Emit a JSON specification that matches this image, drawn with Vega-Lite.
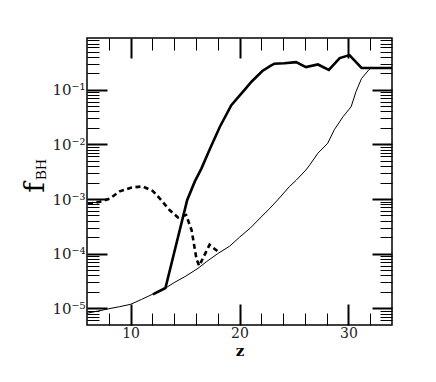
{
  "$schema": "https://vega.github.io/schema/vega-lite/v6.json",
  "width": 305,
  "height": 287,
  "autosize": {"type": "none"},
  "padding": {"left": 87, "top": 38, "right": 44, "bottom": 57},
  "background": "white",
  "config": {
    "view": {"stroke": "black", "strokeWidth": 1.5},
    "axis": {"grid": false, "domain": false, "tickColor": "black"}
  },
  "data": {
    "values": [
      {"z": 6, "f": 8.1e-6, "s": "thin"},
      {"z": 7, "f": 8.9e-6, "s": "thin"},
      {"z": 8, "f": 9.8e-6, "s": "thin"},
      {"z": 9, "f": 1.07e-5, "s": "thin"},
      {"z": 10, "f": 1.18e-5, "s": "thin"},
      {"z": 11, "f": 1.45e-5, "s": "thin"},
      {"z": 12, "f": 1.8e-5, "s": "thin"},
      {"z": 13.3, "f": 2.4e-5, "s": "thin"},
      {"z": 14, "f": 2.95e-5, "s": "thin"},
      {"z": 15, "f": 3.8e-5, "s": "thin"},
      {"z": 16.2, "f": 5.4e-5, "s": "thin"},
      {"z": 17, "f": 7.2e-5, "s": "thin"},
      {"z": 18, "f": 1.0e-4, "s": "thin"},
      {"z": 19.1, "f": 1.37e-4, "s": "thin"},
      {"z": 20, "f": 2.0e-4, "s": "thin"},
      {"z": 21, "f": 2.95e-4, "s": "thin"},
      {"z": 22, "f": 4.7e-4, "s": "thin"},
      {"z": 22.8, "f": 6.8e-4, "s": "thin"},
      {"z": 23.5, "f": 9.6e-4, "s": "thin"},
      {"z": 24.6, "f": 1.7e-3, "s": "thin"},
      {"z": 25.2, "f": 2.2e-3, "s": "thin"},
      {"z": 26.1, "f": 3.4e-3, "s": "thin"},
      {"z": 26.45, "f": 4.2e-3, "s": "thin"},
      {"z": 27.2, "f": 6.9e-3, "s": "thin"},
      {"z": 28.1, "f": 1.05e-2, "s": "thin"},
      {"z": 28.7, "f": 1.85e-2, "s": "thin"},
      {"z": 29.5, "f": 3.2e-2, "s": "thin"},
      {"z": 30.25, "f": 4.9e-2, "s": "thin"},
      {"z": 30.7, "f": 9.3e-2, "s": "thin"},
      {"z": 31.2, "f": 0.16, "s": "thin"},
      {"z": 31.9, "f": 0.235, "s": "thin"},
      {"z": 32.1, "f": 0.25, "s": "thin"},
      {"z": 34, "f": 0.25, "s": "thin"},

      {"z": 12.05, "f": 1.8e-5, "s": "thick"},
      {"z": 13.2, "f": 2.35e-5, "s": "thick"},
      {"z": 15.2, "f": 9.6e-4, "s": "thick"},
      {"z": 15.9, "f": 2.1e-3, "s": "thick"},
      {"z": 16.5, "f": 3.6e-3, "s": "thick"},
      {"z": 17.3, "f": 8.4e-3, "s": "thick"},
      {"z": 18.2, "f": 2.1e-2, "s": "thick"},
      {"z": 19.25, "f": 5.2e-2, "s": "thick"},
      {"z": 20.6, "f": 0.107, "s": "thick"},
      {"z": 21.1, "f": 0.14, "s": "thick"},
      {"z": 22.1, "f": 0.22, "s": "thick"},
      {"z": 22.8, "f": 0.27, "s": "thick"},
      {"z": 23.2, "f": 0.30, "s": "thick"},
      {"z": 24.1, "f": 0.305, "s": "thick"},
      {"z": 25.2, "f": 0.32, "s": "thick"},
      {"z": 26.1, "f": 0.26, "s": "thick"},
      {"z": 27.2, "f": 0.29, "s": "thick"},
      {"z": 28.2, "f": 0.23, "s": "thick"},
      {"z": 29.2, "f": 0.38, "s": "thick"},
      {"z": 30.1, "f": 0.43, "s": "thick"},
      {"z": 31.2, "f": 0.25, "s": "thick"},
      {"z": 34, "f": 0.25, "s": "thick"},

      {"z": 6.1, "f": 8.2e-4, "s": "dash"},
      {"z": 7.2, "f": 8.9e-4, "s": "dash"},
      {"z": 8.1, "f": 1.02e-3, "s": "dash"},
      {"z": 9.0, "f": 1.38e-3, "s": "dash"},
      {"z": 10.1, "f": 1.62e-3, "s": "dash"},
      {"z": 11.1, "f": 1.7e-3, "s": "dash"},
      {"z": 12.05, "f": 1.4e-3, "s": "dash"},
      {"z": 12.8, "f": 9.6e-4, "s": "dash"},
      {"z": 13.6, "f": 6.2e-4, "s": "dash"},
      {"z": 14.35, "f": 4.6e-4, "s": "dash"},
      {"z": 15.1, "f": 5.1e-4, "s": "dash"},
      {"z": 15.6, "f": 2.7e-4, "s": "dash"},
      {"z": 16.05, "f": 8e-5, "s": "dash"},
      {"z": 16.3, "f": 6e-5, "s": "dash"},
      {"z": 17.25, "f": 1.45e-4, "s": "dash"},
      {"z": 18.0, "f": 1.1e-4, "s": "dash"}
    ]
  },
  "resolve": {"axis": {"x": "independent", "y": "independent"}},
  "layer": [
    {
      "transform": [{"filter": "datum.s == 'thin'"}],
      "mark": {"type": "line", "color": "black", "strokeWidth": 1, "clip": true},
      "encoding": {
        "x": {
          "field": "z", "type": "quantitative",
          "scale": {"domain": [6, 34], "nice": false, "zero": false},
          "axis": {
            "orient": "bottom", "values": [10, 20, 30], "tickSize": -21, "tickWidth": 2,
            "labelFont": "DejaVu Serif", "labelFontSize": 14, "labelColor": "#222", "labelPadding": 22,
            "title": "z", "titleFont": "DejaVu Serif", "titleFontWeight": "bold", "titleFontSize": 15,
            "titleColor": "black", "titleY": 30, "titleBaseline": "alphabetic"
          }
        },
        "y": {
          "field": "f", "type": "quantitative",
          "scale": {"type": "log", "domain": [4.94e-6, 0.885], "nice": false},
          "axis": {
            "orient": "left", "values": [1e-5, 1e-4, 1e-3, 1e-2, 1e-1], "tickSize": -20, "tickWidth": 2,
            "labelExpr": "datum.value < 3e-5 ? '10⁻⁵' : datum.value < 3e-4 ? '10⁻⁴' : datum.value < 3e-3 ? '10⁻³' : datum.value < 3e-2 ? '10⁻²' : '10⁻¹'",
            "labelFont": "DejaVu Serif", "labelFontSize": 15, "labelColor": "#222", "labelPadding": 22,
            "title": "f", "titleFont": "DejaVu Serif", "titleFontWeight": "normal", "titleFontSize": 28,
            "titleColor": "black", "titleAngle": 270, "titleX": -44, "titleY": 149,
            "titleAlign": "center", "titleBaseline": "alphabetic"
          }
        }
      }
    },
    {
      "transform": [{"filter": "datum.s == 'thick'"}],
      "mark": {"type": "line", "color": "black", "strokeWidth": 2.6, "clip": true},
      "encoding": {
        "x": {
          "field": "z", "type": "quantitative",
          "scale": {"domain": [6, 34], "nice": false, "zero": false},
          "axis": {
            "orient": "bottom", "values": [8, 12, 14, 16, 18, 22, 24, 26, 28, 32],
            "tickSize": -12, "tickWidth": 1, "labels": false, "title": null
          }
        },
        "y": {
          "field": "f", "type": "quantitative",
          "scale": {"type": "log", "domain": [4.94e-6, 0.885], "nice": false},
          "axis": {
            "orient": "left",
            "values": [6e-6, 7e-6, 8e-6, 9e-6, 2e-5, 3e-5, 4e-5, 5e-5, 6e-5, 7e-5, 8e-5, 9e-5, 2e-4, 3e-4, 4e-4, 5e-4, 6e-4, 7e-4, 8e-4, 9e-4, 2e-3, 3e-3, 4e-3, 5e-3, 6e-3, 7e-3, 8e-3, 9e-3, 2e-2, 3e-2, 4e-2, 5e-2, 6e-2, 7e-2, 8e-2, 9e-2, 0.2, 0.3, 0.4, 0.5, 0.6, 0.7, 0.8],
            "tickSize": -12, "tickWidth": 1, "labels": false,
            "title": "BH", "titleFont": "Liberation Serif", "titleFontWeight": "normal", "titleFontSize": 15,
            "titleColor": "black", "titleAngle": 270, "titleX": -42, "titleY": 131,
            "titleAlign": "center", "titleBaseline": "alphabetic"
          }
        }
      }
    },
    {
      "transform": [{"filter": "datum.s == 'dash'"}],
      "mark": {"type": "line", "color": "black", "strokeWidth": 2.6, "strokeDash": [5, 3.5], "clip": true},
      "encoding": {
        "x": {
          "field": "z", "type": "quantitative",
          "scale": {"domain": [6, 34], "nice": false, "zero": false},
          "axis": {"orient": "top", "values": [10, 20, 30], "tickSize": -20, "tickWidth": 2, "labels": false, "title": null}
        },
        "y": {
          "field": "f", "type": "quantitative",
          "scale": {"type": "log", "domain": [4.94e-6, 0.885], "nice": false},
          "axis": {"orient": "right", "values": [1e-5, 1e-4, 1e-3, 1e-2, 1e-1], "tickSize": -20, "tickWidth": 2, "labels": false, "title": null}
        }
      }
    },
    {
      "transform": [{"filter": "datum.s == 'thin'"}],
      "mark": {"type": "line", "color": "black", "strokeWidth": 1, "opacity": 0, "clip": true},
      "encoding": {
        "x": {
          "field": "z", "type": "quantitative",
          "scale": {"domain": [6, 34], "nice": false, "zero": false},
          "axis": {
            "orient": "top", "values": [8, 12, 14, 16, 18, 22, 24, 26, 28, 32],
            "tickSize": -12, "tickWidth": 1, "labels": false, "title": null
          }
        },
        "y": {
          "field": "f", "type": "quantitative",
          "scale": {"type": "log", "domain": [4.94e-6, 0.885], "nice": false},
          "axis": {
            "orient": "right",
            "values": [6e-6, 7e-6, 8e-6, 9e-6, 2e-5, 3e-5, 4e-5, 5e-5, 6e-5, 7e-5, 8e-5, 9e-5, 2e-4, 3e-4, 4e-4, 5e-4, 6e-4, 7e-4, 8e-4, 9e-4, 2e-3, 3e-3, 4e-3, 5e-3, 6e-3, 7e-3, 8e-3, 9e-3, 2e-2, 3e-2, 4e-2, 5e-2, 6e-2, 7e-2, 8e-2, 9e-2, 0.2, 0.3, 0.4, 0.5, 0.6, 0.7, 0.8],
            "tickSize": -12, "tickWidth": 1, "labels": false, "title": null
          }
        }
      }
    }
  ]
}
